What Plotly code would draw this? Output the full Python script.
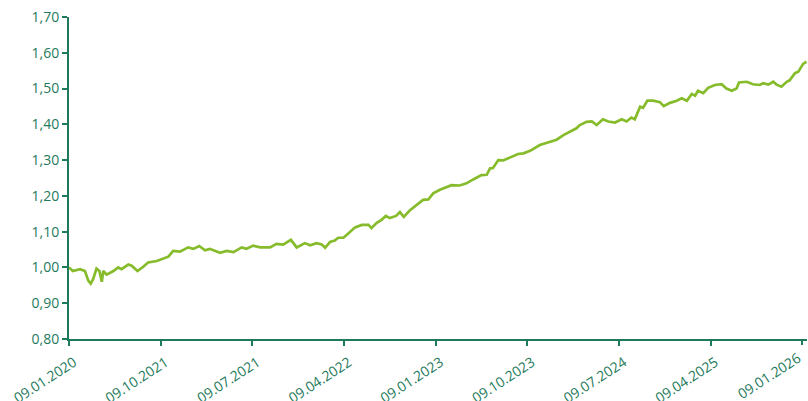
import plotly.graph_objects as go

# trading-day index (one tick interval = 190 days) and values
days = [0, 8, 23, 33, 40, 45, 50, 57, 63, 68, 71, 78, 92, 102, 109, 123, 130, 142, 154, 164,
        182, 195, 206, 216, 230, 247, 258, 270, 282, 292, 303, 313, 327, 341, 358, 368, 382, 396,
        417, 430, 444, 460, 472, 489, 500, 513, 524, 531, 541, 551, 558, 569, 579, 593, 607, 621,
        627, 638, 648, 657, 665, 678, 686, 694, 707, 721, 734, 745, 755, 769, 783,
        793, 810, 824, 838, 855, 866, 873, 879, 890, 900, 914, 931, 942, 956, 976, 997, 1011,
        1025, 1038, 1052, 1059, 1073, 1084, 1094, 1107, 1118, 1132, 1146, 1156, 1166, 1173,
        1184, 1190, 1199, 1211, 1225, 1233, 1246, 1260, 1270, 1281, 1291, 1298, 1304, 1315,
        1325, 1339, 1353, 1363, 1374, 1384, 1389, 1405, 1418, 1432, 1439, 1450, 1460, 1467,
        1477, 1488, 1494, 1505, 1512, 1522, 1529]
values = [1.000, 0.990, 0.995, 0.990, 0.963, 0.955, 0.967, 0.997, 0.990, 0.960, 0.990, 0.980,
          0.990, 1.000, 0.995, 1.008, 1.005, 0.990, 1.002, 1.014, 1.018, 1.025, 1.030, 1.046,
          1.044, 1.056, 1.052, 1.060, 1.048, 1.052, 1.046, 1.041, 1.046, 1.043, 1.056, 1.052,
          1.061, 1.056,
          1.056, 1.066, 1.064, 1.077, 1.056, 1.068, 1.062, 1.068, 1.064, 1.055, 1.071, 1.075,
          1.083, 1.083, 1.095, 1.112, 1.119, 1.119, 1.110, 1.125, 1.133, 1.144, 1.138, 1.144,
          1.155, 1.141, 1.160, 1.175, 1.189, 1.190, 1.207, 1.217, 1.224,
          1.230, 1.229, 1.235, 1.246, 1.258, 1.259, 1.277, 1.278, 1.300, 1.299, 1.308, 1.317,
          1.319, 1.326, 1.342, 1.352, 1.357, 1.370, 1.379, 1.389, 1.398, 1.407, 1.408, 1.398,
          1.414, 1.408, 1.405, 1.414, 1.408, 1.419, 1.414, 1.449, 1.446, 1.466, 1.466, 1.462,
          1.451, 1.460, 1.466, 1.473, 1.466, 1.485, 1.480, 1.494, 1.487, 1.502, 1.510, 1.512,
          1.500, 1.494, 1.500, 1.517, 1.519, 1.512, 1.510, 1.515, 1.511, 1.519, 1.511, 1.505,
          1.519, 1.523, 1.543, 1.547, 1.569, 1.575]

tick_days = [0, 190, 380, 570, 760, 950, 1140, 1330, 1520]
tick_labels = ["09.01.2020", "09.10.2021", "09.07.2021", "09.04.2022", "09.01.2023",
               "09.10.2023", "09.07.2024", "09.04.2025", "09.01.2026"]
y_ticks = [0.8, 0.9, 1.0, 1.1, 1.2, 1.3, 1.4, 1.5, 1.6, 1.7]
title_text = "Wertentwicklung der Anteilsklasse (€)"

axis_color = "#1f7a5c"
line_color = "#86bc2c"
x_range = [0, 1530]

fig = go.Figure()
fig.add_trace(go.Scatter(x=days, y=values, mode="lines",
                         line=dict(color=line_color, width=2.7), hoverinfo="skip"))
# helper (invisible) trace so the overlay axis carrying the edge label is drawn
fig.add_trace(go.Scatter(x=[tick_days[-1]], y=[values[-1]], xaxis="x2", mode="none",
                         hoverinfo="skip", showlegend=False))

common_tick = dict(ticks="outside", ticklen=5, tickwidth=1.5, tickcolor=axis_color,
                   tickfont=dict(size=14, color=axis_color), showgrid=False, zeroline=False,
                   automargin=False)

fig.update_layout(
    width=808, height=401,
    margin=dict(l=69, r=1, t=17, b=62, autoexpand=False),
    plot_bgcolor="white", paper_bgcolor="white",
    showlegend=False,
    separators=", ",
    font=dict(family="Open Sans", color=axis_color, size=14),
    xaxis=dict(range=x_range, tickvals=tick_days[:-1], ticktext=tick_labels[:-1],
               tickangle=-33, ticklabeloverflow="allow", ticklabelshift=5,
               ticklabelstandoff=3, showline=True, linecolor=axis_color, linewidth=2,
               **common_tick),
    xaxis2=dict(range=x_range, overlaying="x", side="bottom", anchor="y",
                tickvals=tick_days[-1:], ticktext=tick_labels[-1:], tickangle=-33,
                ticklabeloverflow="allow", ticklabelshift=-4, ticklabelstandoff=0,
                showline=False, **common_tick),
    yaxis=dict(range=[0.8, 1.7], tickvals=y_ticks, tickformat=".2f",
               showline=True, linecolor=axis_color, linewidth=2, **common_tick),
    annotations=[dict(text=title_text, xref="paper", yref="paper", x=-0.0827, y=1.084,
                      xanchor="left", yanchor="middle", showarrow=False,
                      font=dict(size=17, color=axis_color))],
)

fig.write_html("out.html", config={"displayModeBar": False},
               post_script="document.body.style.margin='0';document.body.style.overflow='hidden';")
